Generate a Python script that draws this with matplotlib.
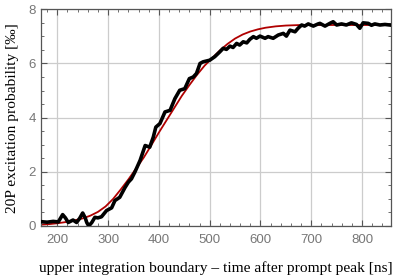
import matplotlib
matplotlib.use("Agg")
import matplotlib.pyplot as plt
from matplotlib.ticker import MultipleLocator

# measured data (black)
t_data = [168, 180, 192, 202, 210.6, 216, 221.6, 231, 238, 244, 250, 255, 258, 262, 268, 274,
          280, 287, 297, 307, 313.5, 323, 333, 340, 346, 353, 363, 373, 382, 389, 394,
          402, 412, 422, 431.5, 441, 451, 460, 467.6, 474, 481, 487, 500, 510, 520,
          526.6, 533, 540, 546, 553, 559, 566, 573, 579, 586, 592, 599, 609, 615, 625,
          635, 645, 651, 658, 668, 674, 681, 687, 694, 704, 713.5, 717, 727, 736.5, 743,
          750, 759.5, 769, 779, 789, 795.5, 802, 812, 818.5, 825, 835, 845, 854.5]
v_data = [0.16, 0.14, 0.17, 0.15, 0.42, 0.30, 0.13, 0.22, 0.13, 0.28, 0.48, 0.30, 0.13, 0.0, 0.13, 0.32,
          0.30, 0.34, 0.57, 0.67, 0.94, 1.06, 1.41, 1.62, 1.74, 2.0, 2.42, 2.97, 2.91, 3.28, 3.65,
          3.78, 4.21, 4.27, 4.70, 5.01, 5.07, 5.44, 5.50, 5.63, 6.0, 6.06, 6.12, 6.25, 6.43,
          6.56, 6.52, 6.64, 6.59, 6.74, 6.68, 6.80, 6.76, 6.89, 6.99, 6.93, 7.01, 6.93, 6.99, 6.93,
          7.05, 7.11, 7.01, 7.23, 7.17, 7.30, 7.42, 7.38, 7.46, 7.38, 7.46, 7.48, 7.38, 7.48, 7.54,
          7.42, 7.46, 7.42, 7.50, 7.44, 7.30, 7.50, 7.48, 7.41, 7.46, 7.42, 7.44, 7.42]

# fit curve (red)
t_fit = [168, 185, 200, 215, 230, 250, 265, 280, 295, 310, 325, 340, 355, 370, 385, 400,
         415, 430, 445, 460, 475, 490, 505, 520, 535, 550, 565, 580, 595, 610, 630, 650,
         680, 720, 780, 856]
v_fit = [0.05, 0.07, 0.10, 0.14, 0.19, 0.28, 0.38, 0.52, 0.72, 1.0, 1.35, 1.72, 2.12, 2.52,
         2.98, 3.45, 3.9, 4.35, 4.8, 5.2, 5.58, 5.92, 6.2, 6.48, 6.72, 6.92, 7.07, 7.18, 7.26,
         7.32, 7.37, 7.40, 7.42, 7.42, 7.42, 7.42]

x_ticks = [200, 300, 400, 500, 600, 700, 800]
y_ticks = [0, 2, 4, 6, 8]

fig = plt.figure(figsize=(3.99, 2.79), dpi=100)
ax = fig.add_axes([0.1028, 0.19, 0.876, 0.7767])

ax.plot(t_fit, v_fit, color="#b00000", lw=1.3, zorder=2)
ax.plot(t_data, v_data, color="black", lw=2.6, zorder=3, solid_joinstyle="round")

ax.set_xlim(168, 856)
ax.set_ylim(0, 8)
ax.set_xticks(x_ticks)
ax.set_yticks(y_ticks)
ax.xaxis.set_minor_locator(MultipleLocator(20))
ax.yaxis.set_minor_locator(MultipleLocator(0.5))
ax.grid(True, which="major", color="#cccccc", lw=0.9, zorder=0)
ax.set_axisbelow(True)
ax.tick_params(which="both", direction="in", top=True, right=True, colors="#555555",
               labelcolor="#777777", labelsize=9.5)
ax.tick_params(axis="x", which="major", pad=6)
ax.tick_params(which="major", length=4, width=0.8)
ax.tick_params(which="minor", length=2, width=0.6)
for lab in ax.get_xticklabels() + ax.get_yticklabels():
    lab.set_family(["Liberation Sans", "DejaVu Sans"])
for s in ax.spines.values():
    s.set_color("#555555")
    s.set_linewidth(0.9)

serif = ["Liberation Serif", "DejaVu Serif"]
ax.set_xlabel("upper integration boundary \u2013 time after prompt peak [ns]",
              family=serif, fontsize=11.1, labelpad=11)
ax.set_ylabel("20P excitation probability [\u2030]", family=serif, fontsize=11.1, labelpad=7)

fig.savefig("out.png", dpi=100)
